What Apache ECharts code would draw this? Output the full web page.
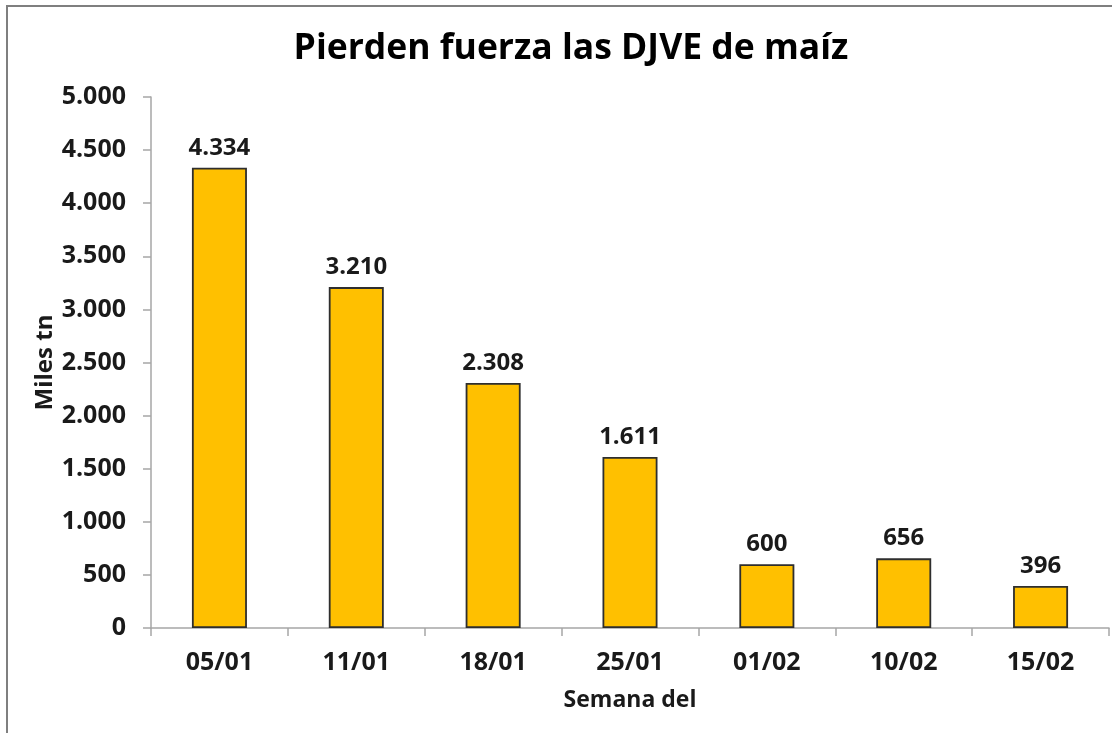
<!DOCTYPE html>
<html>
<head>
<meta charset="utf-8">
<script src="https://cdn.jsdelivr.net/npm/echarts@6/dist/echarts.min.js"></script>
<style>
    html, body { margin:0; padding:0; background:#fff; overflow:hidden; }
    #frame { position:absolute; left:6px; top:5px; width:1200px; height:800px; border:2px solid #7f7f7f; }
    #chart { position:absolute; left:0; top:0; width:1112px; height:733px; }
</style>
</head>
<body>
<div id="frame"></div>
<div id="chart"></div>
<script>
var semanas = ['05/01', '11/01', '18/01', '25/01', '01/02', '10/02', '15/02'];
var djve = [4334, 3210, 2308, 1611, 600, 656, 396];
var yTicks = [0, 500, 1000, 1500, 2000, 2500, 3000, 3500, 4000, 4500, 5000];

function miles(v) {
    // 4334 -> 4.334
    return String(v).replace(/\B(?=(\d{3})+(?!\d))/g, '.');
}

var font = 'Open Sans';
var chart = echarts.init(document.getElementById('chart'));
var option = {
    animation: false,
    title: {
        text: 'Pierden fuerza las DJVE de maíz',
        left: 566,
        top: 26,
        textAlign: 'center',
        textStyle: { fontFamily: font, fontWeight: 'bold', fontSize: 35.5, color: '#000' }
    },
    grid: { left: 151, right: 3, top: 97, bottom: 105 },
    xAxis: {
        type: 'category',
        data: semanas,
        name: 'Semana del',
        nameLocation: 'middle',
        nameGap: 61,
        nameMoveOverlap: false,
        nameTextStyle: { fontFamily: font, fontWeight: 'bold', fontSize: 23, color: '#1a1a1a' },
        axisLine: { lineStyle: { color: '#a6a6a6', width: 1.5 } },
        axisTick: { show: true, length: 8, lineStyle: { color: '#a6a6a6', width: 1.5 } },
        axisLabel: { margin: 22, fontFamily: font, fontWeight: 'bold', fontSize: 25, color: '#1a1a1a' }
    },
    yAxis: {
        type: 'value',
        min: yTicks[0],
        max: yTicks[yTicks.length - 1],
        interval: 500,
        name: 'Miles tn',
        nameLocation: 'middle',
        nameGap: 94,
        nameMoveOverlap: false,
        nameTextStyle: { fontFamily: font, fontWeight: 'bold', fontSize: 24, color: '#1a1a1a' },
        axisLine: { show: true, lineStyle: { color: '#a6a6a6', width: 1.5 } },
        axisTick: { show: true, length: 8, lineStyle: { color: '#a6a6a6', width: 1.5 } },
        splitLine: { show: false },
        axisLabel: {
            margin: 25,
            fontFamily: font, fontWeight: 'bold', fontSize: 25, color: '#1a1a1a',
            formatter: function (v) { return miles(v); }
        }
    },
    series: [{
        type: 'bar',
        data: djve,
        barWidth: 55,
        itemStyle: { color: '#FFC000', borderColor: '#2e2e2e', borderWidth: 1.8 },
        label: {
            show: true,
            position: 'top',
            distance: 8,
            fontFamily: font, fontWeight: 'bold', fontSize: 24, color: '#1a1a1a',
            formatter: function (p) { return miles(p.value); }
        }
    }]
};
chart.setOption(option);
</script>
</body>
</html>
